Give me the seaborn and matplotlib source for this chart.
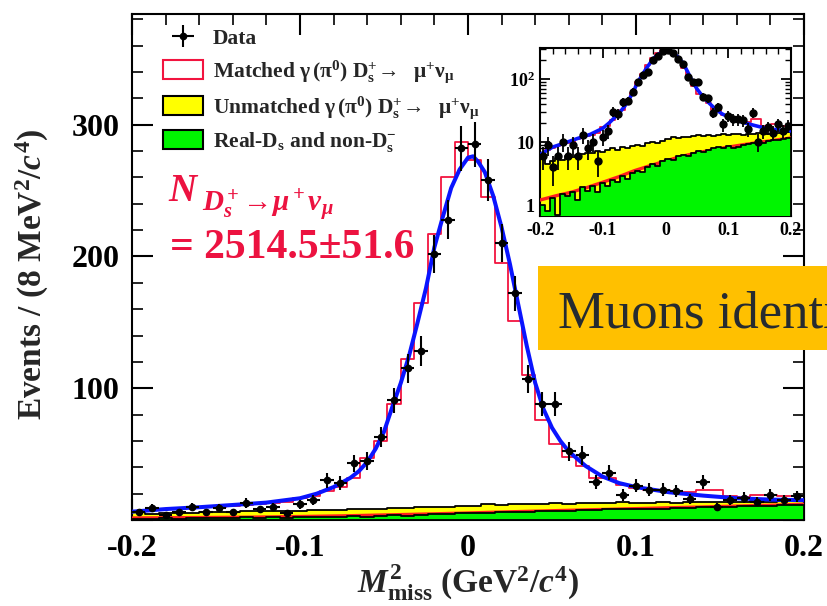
import numpy as np
import pandas as pd
import matplotlib
matplotlib.use("Agg")
import matplotlib.pyplot as plt
import seaborn as sns
from matplotlib.patches import Rectangle, Patch
from matplotlib.ticker import MultipleLocator, FixedLocator, FixedFormatter, FuncFormatter, LogLocator, NullFormatter

# ---------------- data ----------------
x_range = (-0.2, 0.2)
n_bins = 50

data_counts = [6, 9, 4, 6, 10, 6, 9, 6, 13, 8, 10, 5, 12, 15, 30, 28, 43, 45, 63, 91,
               115, 128, 202, 228, 282, 285, 258, 210, 172, 107, 88, 88, 52, 49, 29, 36,
               19, 26, 23, 23, 22, 16, 29, 10, 15, 17, 14, 19, 15, 18]

# stack tops: matched signal (red outline) on top of unmatched (yellow) on top of real-Ds (green)
matched_top = [6.5, 7.5, 8, 8.5, 9, 9.5, 10, 11, 11.5, 12.5, 13, 14, 17, 18, 22, 25, 32, 47,
               60, 88, 122, 165, 217, 260, 287, 273, 245, 195, 151, 110, 76, 58, 48, 41, 32,
               32, 26.5, 24, 23, 23, 21.5, 21, 23, 23, 18, 17.5, 19, 19, 18, 18]
unmatched_top = [6.0, 4.5, 5.0, 5.5, 5.2, 6.0, 5.8, 6.3, 6.5, 6.8, 6.6, 7.2, 7.0, 7.5, 7.9,
                 7.6, 8.2, 8.0, 8.6, 9.0, 8.8, 9.5, 10.0, 9.7, 10.5, 11.0, 11.8, 11.5, 12.2,
                 12.0, 12.5, 12.8, 12.3, 13.0, 12.6, 12.9, 13.4, 12.8, 13.2, 13.5, 13.0, 13.6,
                 13.3, 13.8, 14.0, 13.5, 14.2, 13.8, 14.3, 14.5]
realds_top = [1.0, 0.8, 1.3, 0.7, 1.5, 1.4, 1.6, 1.2, 1.9, 1.7, 2.0, 1.6, 2.2, 2.0, 2.5, 2.3,
              2.9, 2.6, 3.2, 3.5, 3.3, 4.0, 4.4, 4.2, 5.0, 5.4, 5.2, 5.9, 6.3, 6.1, 6.8, 7.2,
              7.0, 7.6, 7.9, 8.3, 8.1, 8.6, 8.0, 8.4, 9.0, 9.3, 9.5, 10.0, 9.8, 10.3, 10.6,
              10.9, 11.2, 11.5]

fit_x = [-0.200, -0.180, -0.160, -0.140, -0.120, -0.100, -0.090, -0.080, -0.070, -0.065,
         -0.060, -0.055, -0.050, -0.045, -0.040, -0.035, -0.030, -0.025, -0.020, -0.015,
         -0.010, -0.005, 0.000, 0.003, 0.006, 0.010, 0.015, 0.020, 0.025, 0.030, 0.035,
         0.040, 0.045, 0.050, 0.055, 0.060, 0.070, 0.080, 0.090, 0.100, 0.110, 0.120,
         0.140, 0.160, 0.180, 0.200]
fit_total = [6.3, 8.3, 9.7, 11.4, 13.2, 16.5, 20, 25, 32, 37, 44, 54, 67, 86, 104, 125, 150,
             176, 207, 230, 252, 266, 275, 276, 272, 264, 246, 222, 194, 163, 132, 104, 84,
             70, 60, 52, 41, 33, 28, 25, 23, 21, 18.5, 16.5, 15.5, 15]

bkg_fit_x = [-0.2, -0.175, -0.15, -0.125, -0.1, -0.075, -0.05, -0.025, 0.0, 0.025, 0.05,
             0.075, 0.1, 0.125, 0.15, 0.175, 0.2]
bkg_fit = [1.2, 1.4, 1.6, 1.9, 2.3, 2.8, 3.5, 4.2, 5.0, 5.9, 6.7, 7.5, 8.3, 9.1, 9.9, 10.7, 11.6]

legend_labels = [
    "Data",
    r"Matched $\mathrm{\gamma\,(\pi^0)}$ $\mathbf{D}_{\mathrm{s}}^{\mathbf{+}}\!\mathrm{\rightarrow}$  $\mathrm{\mu}^{+}\mathrm{\nu}_{\mathrm{\mu}}$",
    r"Unmatched $\mathrm{\gamma\,(\pi^0)}$ $\mathbf{D}_{\mathrm{s}}^{\mathbf{+}}\!\mathrm{\rightarrow}$  $\mathrm{\mu}^{+}\mathrm{\nu}_{\mathrm{\mu}}$",
    r"Real-D$_{\mathrm{s}}$ and non-D$_{\mathrm{s}}^{\mathbf{-}}$",
]

# ---------------- style ----------------
sns.set_theme(style="ticks")
plt.rcParams.update({
    "font.family": ["Liberation Serif", "DejaVu Serif"],
    "font.weight": "bold",
    "mathtext.fontset": "custom",
    "mathtext.rm": "Liberation Serif",
    "mathtext.it": "Liberation Serif:style=italic",
    "mathtext.bf": "Liberation Serif:weight=bold",
    "mathtext.sf": "Liberation Serif:style=italic:weight=bold",
    "axes.linewidth": 1.5,
    "axes.edgecolor": "black",
})

RED_H = "#F2143F"
RED_F = "#FF1E1E"
RED_T = "#EC1240"
YEL = "#FFFF00"
GRN = "#00F500"
BLUE = "#0A14FF"

edges = np.linspace(x_range[0], x_range[1], n_bins + 1)
bin_list = [float(e) for e in edges]
centers = 0.5 * (edges[:-1] + edges[1:])
half_w = 0.5 * (edges[1] - edges[0])
df = pd.DataFrame({"x": centers, "data": data_counts, "matched": matched_top,
                   "unmatched": unmatched_top, "realds": realds_top})
df_fit = pd.DataFrame({"x": fit_x, "y": fit_total})
df_bkg = pd.DataFrame({"x": bkg_fit_x, "y": bkg_fit})

fig = plt.figure(figsize=(8.28, 6.06), dpi=100)
W, H = 828, 606
ax = fig.add_axes([132 / W, 1 - 520 / H, (804 - 132) / W, (520 - 14) / H])
axin = fig.add_axes([540 / W, 1 - 216 / H, (791 - 540) / W, (216 - 48) / H])


def draw(a, ms, blue_lw, red_lw, elw):
    sns.histplot(data=df, x="x", weights="matched", bins=bin_list, element="step", fill=True,
                 color="white", edgecolor=RED_H, linewidth=1.3, alpha=1, ax=a, zorder=1)
    sns.histplot(data=df, x="x", weights="unmatched", bins=bin_list, element="step", fill=True,
                 color=YEL, edgecolor="black", linewidth=1.3, alpha=1, ax=a, zorder=2)
    sns.lineplot(data=df_bkg, x="x", y="y", color=RED_F, lw=red_lw, ax=a, zorder=3)
    sns.histplot(data=df, x="x", weights="realds", bins=bin_list, element="step", fill=True,
                 color=GRN, edgecolor="black", linewidth=1.3, alpha=1, ax=a, zorder=4)
    sns.lineplot(data=df_fit, x="x", y="y", color=BLUE, lw=blue_lw, ax=a, zorder=5)
    cont = a.errorbar(df["x"], df["data"], yerr=np.sqrt(df["data"]), xerr=half_w, fmt="o",
                      ms=ms, color="black", ecolor="black", elinewidth=elw, capsize=0,
                      zorder=6)
    a.set_xlim(*x_range)
    a.set_xlabel("")
    a.set_ylabel("")
    return cont


cont = draw(ax, 4.5, 2.9, 3.0, 1.5)
draw(axin, 5.0, 2.6, 2.4, 1.3)

# main axis formatting
ax.set_ylim(0, 384)
ax.xaxis.set_major_locator(MultipleLocator(0.1))
ax.xaxis.set_minor_locator(MultipleLocator(0.02))
ax.yaxis.set_major_locator(MultipleLocator(100))
ax.yaxis.set_minor_locator(MultipleLocator(20))
ax.xaxis.set_major_formatter(FuncFormatter(lambda v, p: "0" if abs(v) < 1e-9 else f"{v:.1f}"))
ax.yaxis.set_major_formatter(FuncFormatter(lambda v, p: "" if abs(v) < 1e-9 else f"{v:.0f}"))
ax.tick_params(which="both", direction="in", top=True, right=True, labelsize=23,
               colors="black")
ax.tick_params(axis="x", which="major", length=15, width=1.5, pad=10)
ax.tick_params(axis="y", which="major", length=15, width=1.5, pad=9)
ax.tick_params(which="minor", length=8, width=1.2)
for lab in ax.get_xticklabels() + ax.get_yticklabels():
    lab.set_fontweight("bold")

ax.set_xlabel(r"$M^{\mathbf{2}}_{\mathbf{miss}}$ (GeV$^{\mathbf{2}}$/$c^{\mathbf{4}}$)",
              fontsize=24, fontweight="bold")
ax.xaxis.set_label_coords(0.5, -0.085)
ax.set_ylabel(r"Events / (8 MeV$^{\mathbf{2}}$/$c^{\mathbf{4}}$)", fontsize=24,
              fontweight="bold")
ax.yaxis.set_label_coords(-0.12, 0.485)

# legend
handles = [cont,
           Patch(facecolor="white", edgecolor=RED_H, linewidth=1.5),
           Patch(facecolor=YEL, edgecolor="black", linewidth=1.5),
           Patch(facecolor=GRN, edgecolor="black", linewidth=1.5)]
leg = ax.legend(handles, legend_labels, loc="upper left", bbox_to_anchor=(0.046, 0.973),
                frameon=False, fontsize=15.5, handlelength=1.86, handleheight=0.95,
                handletextpad=0.47, labelspacing=0.42, borderaxespad=0, borderpad=0)

# inset formatting
axin.set_yscale("log")
axin.set_ylim(0.67, 310)
axin.set_xlim(*x_range)
axin.xaxis.set_major_locator(MultipleLocator(0.1))
axin.xaxis.set_minor_locator(MultipleLocator(0.02))
axin.xaxis.set_major_formatter(FuncFormatter(lambda v, p: "0" if abs(v) < 1e-9 else f"{v:.1f}"))
axin.yaxis.set_major_locator(FixedLocator([1, 10, 100]))
axin.yaxis.set_major_formatter(FixedFormatter(["1", "10", r"10$^{\mathbf{2}}$"]))
axin.yaxis.set_minor_locator(LogLocator(base=10, subs=np.arange(2, 10)))
axin.yaxis.set_minor_formatter(NullFormatter())
axin.tick_params(which="both", direction="in", top=True, right=True, labelsize=13,
                 colors="black")
axin.tick_params(which="major", length=7, width=1.3, pad=4)
axin.tick_params(which="minor", length=4, width=1.0)
for lab in axin.get_xticklabels() + axin.get_yticklabels():
    lab.set_fontweight("bold")
for s in axin.spines.values():
    s.set_linewidth(1.5)

# red annotation
fig.text(168 / W, 1 - 201 / H, "N", fontsize=28, fontstyle="italic", fontweight="bold",
         color=RED_T, zorder=20)
fig.text(202 / W, 1 - 212 / H, r"$\mathsf{D_s^+\!\rightarrow\!\mu^+\nu_\mu}$", fontsize=21,
         color=RED_T, zorder=20)
fig.text(170 / W, 1 - 258 / H, "= 2514.5±51.6", fontsize=30, color=RED_T,
         fontweight="bold", zorder=20)

# overlaid orange box
fig.add_artist(Rectangle((538 / W, 1 - 350 / H), (W - 538) / W + 0.02, 84 / H,
                         transform=fig.transFigure, facecolor="#FFC000", edgecolor="none",
                         zorder=30))
fig.text(558 / W, 1 - 327 / H, "Muons identified", fontsize=38, fontweight="normal",
         family="Liberation Serif", color="#262B30", zorder=31)

fig.savefig("out.png", dpi=100)
